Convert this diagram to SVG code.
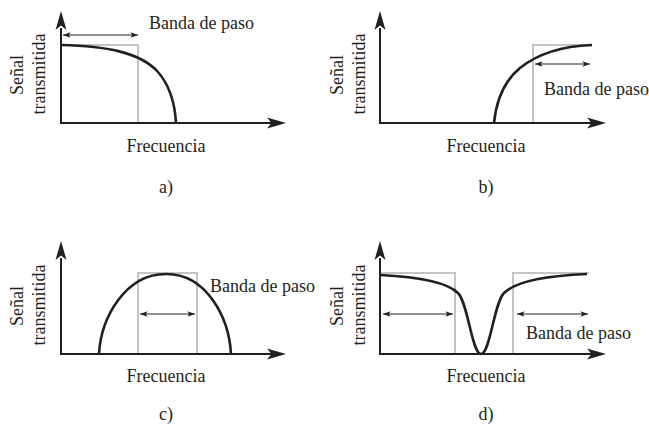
<svg xmlns="http://www.w3.org/2000/svg" xmlns:xlink="http://www.w3.org/1999/xlink" width="649" height="424" viewBox="0 0 649 424">
<style>
text{font-family:"Liberation Serif","Times New Roman",serif;font-size:18px;fill:#231f20}
.mid{text-anchor:middle}
.axis{stroke:#231f20;stroke-width:2;fill:none}
.gray{stroke:#c4c4c4;stroke-width:2;fill:none}
.curve{stroke:#231f20;stroke-width:2.6;fill:none}
.dbl{stroke:#231f20;stroke-width:1;fill:none;marker-start:url(#sm);marker-end:url(#sm)}
</style>
<defs>
<path id="ah" d="M0,0 L-19,-5.5 L-14.5,0 L-19,5.5 Z" fill="#231f20"/>
<marker id="sm" markerUnits="userSpaceOnUse" markerWidth="10" markerHeight="8" viewBox="-8 -4 9 8" refX="0" refY="0" orient="auto-start-reverse">
<path d="M0,0 L-7.5,-2.7 L-5.8,0 L-7.5,2.7 Z" fill="#231f20"/>
</marker>
</defs>
<g id="panel-a">
<path class="gray" d="M61,45 H138 V123"/>
<path class="curve" d="M61,45 C105,46 140,52 158,72 C171,87 175,105 176,123"/>
<line class="axis" x1="61" y1="123" x2="61" y2="28"/>
<line class="axis" x1="60" y1="123" x2="272" y2="123"/>
<use xlink:href="#ah" transform="translate(61,11) rotate(-90)"/>
<use xlink:href="#ah" transform="translate(286,123)"/>
<line class="dbl" x1="63" y1="35" x2="138" y2="35"/>
<text x="149" y="29">Banda de paso</text>
<text class="mid" x="166" y="152">Frecuencia</text>
<text class="mid" x="166" y="193">a)</text>
<text class="mid" transform="translate(23,75) rotate(-90)">Señal</text>
<text class="mid" transform="translate(45,74) rotate(-90)">transmitida</text>
</g>
<g id="panel-b">
<path class="gray" d="M533,123 V45 H592"/>
<path class="curve" d="M494,123 C496,103 503,82 520,68 C540,52 565,46 592,45"/>
<line class="axis" x1="380" y1="123" x2="380" y2="28"/>
<line class="axis" x1="379" y1="123" x2="592" y2="123"/>
<use xlink:href="#ah" transform="translate(380,11) rotate(-90)"/>
<use xlink:href="#ah" transform="translate(606,123)"/>
<line class="dbl" x1="535" y1="64" x2="590" y2="64"/>
<text x="544" y="95">Banda de paso</text>
<text class="mid" x="486" y="152">Frecuencia</text>
<text class="mid" x="486" y="193">b)</text>
<text class="mid" transform="translate(343,75) rotate(-90)">Señal</text>
<text class="mid" transform="translate(365,74) rotate(-90)">transmitida</text>
</g>
<g id="panel-c">
<path class="gray" d="M138,354 V273 H197 V354"/>
<path class="curve" d="M99,354 C101,318 125,274 166,274 C207,274 229,318 231,354"/>
<line class="axis" x1="61" y1="354" x2="61" y2="258"/>
<line class="axis" x1="60" y1="354" x2="272" y2="354"/>
<use xlink:href="#ah" transform="translate(61,241) rotate(-90)"/>
<use xlink:href="#ah" transform="translate(286,354)"/>
<line class="dbl" x1="140" y1="314" x2="195" y2="314"/>
<text x="210" y="292">Banda de paso</text>
<text class="mid" x="166" y="382">Frecuencia</text>
<text class="mid" x="166" y="420">c)</text>
<text class="mid" transform="translate(23,306) rotate(-90)">Señal</text>
<text class="mid" transform="translate(45,305) rotate(-90)">transmitida</text>
</g>
<g id="panel-d">
<path class="gray" d="M380,273 H455 V354 M513,354 V273 H589"/>
<path class="curve" d="M380,275 C420,277 448,283 458,293 C468,303 472,354 481,354 C490,354 494,303 504,293 C514,283 540,276 587,274"/>
<line class="axis" x1="380" y1="354" x2="380" y2="258"/>
<line class="axis" x1="379" y1="354" x2="592" y2="354"/>
<use xlink:href="#ah" transform="translate(380,241) rotate(-90)"/>
<use xlink:href="#ah" transform="translate(606,354)"/>
<line class="dbl" x1="383" y1="314" x2="453" y2="314"/>
<line class="dbl" x1="517" y1="314" x2="588" y2="314"/>
<text x="526" y="339">Banda de paso</text>
<text class="mid" x="486" y="382">Frecuencia</text>
<text class="mid" x="486" y="420">d)</text>
<text class="mid" transform="translate(343,306) rotate(-90)">Señal</text>
<text class="mid" transform="translate(365,305) rotate(-90)">transmitida</text>
</g>
</svg>
